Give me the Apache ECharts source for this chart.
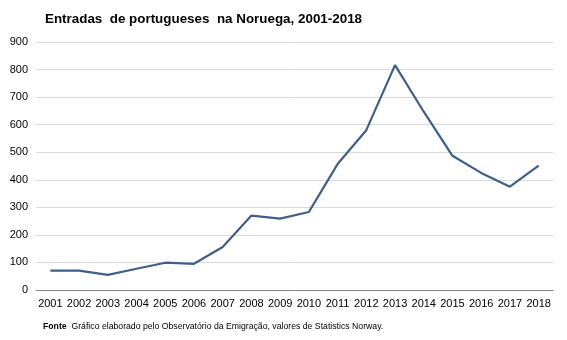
<!DOCTYPE html>
<html>
<head>
<meta charset="utf-8">
<script src="https://cdn.jsdelivr.net/npm/echarts@6/dist/echarts.min.js"></script>
<style>html,body{margin:0;padding:0;background:#fff}#c{width:567px;height:340px}</style>
</head>
<body>
<div id="c"></div>
<script>
var years = ['2001','2002','2003','2004','2005','2006','2007','2008','2009','2010','2011','2012','2013','2014','2015','2016','2017','2018'];
var entradas = [70, 70, 55, 77, 99, 95, 156, 270, 259, 283, 457, 580, 816, 647, 487, 425, 375, 451];
var titleText = 'Entradas  de portugueses  na Noruega, 2001-2018';
var sourceLabel = 'Fonte';
var sourceText = 'Gráfico elaborado pelo Observatório da Emigração, valores de Statistics Norway.';

var chart = echarts.init(document.getElementById('c'), null, {renderer: 'canvas'});
chart.setOption({
  animation: false,
  backgroundColor: '#fff',
  textStyle: {fontFamily: 'Liberation Sans, Arial, sans-serif'},
  title: {
    text: titleText,
    left: 40, top: 8,
    textStyle: {fontSize: 13.4, fontWeight: 'bold', color: '#000', fontFamily: 'Liberation Sans, Arial, sans-serif'}
  },
  graphic: [{
    type: 'text', left: 43, top: 322,
    style: {
      text: '{b|' + sourceLabel + '}  ' + sourceText,
      rich: {b: {fontWeight: 'bold', fontSize: 8.7, fill: '#000', fontFamily: 'Liberation Sans, Arial, sans-serif'}},
      fontSize: 8.7, fill: '#000', fontFamily: 'Liberation Sans, Arial, sans-serif'
    }
  }],
  grid: {left: 36, right: 14, top: 42, bottom: 50, containLabel: false},
  xAxis: {
    type: 'category', data: years, boundaryGap: true,
    axisLine: {lineStyle: {color: '#868686', width: 1}},
    axisTick: {show: false},
    axisLabel: {color: '#000', fontSize: 11, margin: 8, interval: 0, fontFamily: 'Liberation Sans, Arial, sans-serif'}
  },
  yAxis: {
    type: 'value', min: 0, max: 900, interval: 100,
    axisLine: {show: false}, axisTick: {show: false},
    axisLabel: {color: '#000', fontSize: 11, margin: 8, fontFamily: 'Liberation Sans, Arial, sans-serif'},
    splitLine: {lineStyle: {color: '#d9d9d9', width: 1}}
  },
  series: [{
    type: 'line', data: entradas, symbol: 'none',
    lineStyle: {color: '#3e5f8a', width: 2.2}
  }]
});
</script>
</body>
</html>
